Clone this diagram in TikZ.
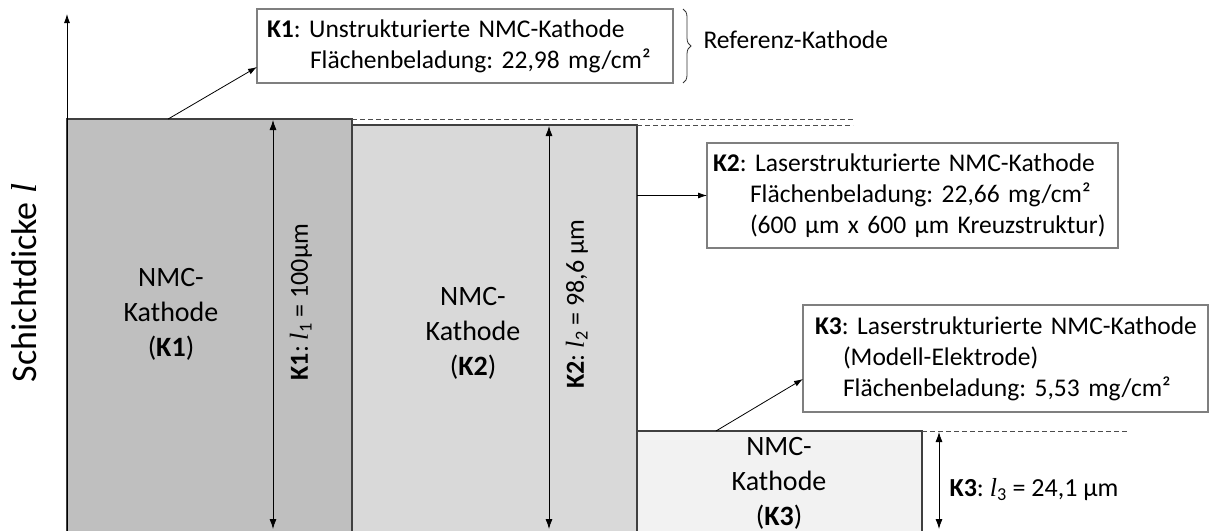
\documentclass[tikz,border=0pt]{standalone}
\usepackage{fontspec}
\setmainfont{Carlito}
\newfontfamily\varfont{Liberation Serif}
\newcommand\lvar[1]{{\varfont\itshape l}\textsubscript{#1}}
\usetikzlibrary{arrows.meta,calc,decorations.pathreplacing}
\definecolor{kone}{HTML}{BFBFBF}
\definecolor{ktwo}{HTML}{D9D9D9}
\definecolor{kthree}{HTML}{F2F2F2}
\definecolor{rectline}{HTML}{404040}
\definecolor{boxline}{HTML}{7F7F7F}
\frenchspacing
\begin{document}
\begin{tikzpicture}[x=1pt,y=-1pt,
  layer/.style={draw=rectline, line width=2pt, inner sep=0pt, outer sep=0pt, anchor=north west, minimum width=285pt, minimum height=440pt},
  infobox/.style={draw=boxline, line width=1.5pt, fill=white, anchor=north west, inner ysep=0pt, outer sep=0pt, align=left, font=\fontsize{25.5}{31}\selectfont},
  arr/.style={-{Latex[length=9pt,width=6pt]}, line width=0.8pt},
  dim/.style={{Latex[length=10pt,width=7pt]}-{Latex[length=10pt,width=7pt]}, line width=0.8pt},
  guide/.style={dash pattern=on 5pt off 3pt, line width=0.8pt, draw=black!70},
  layertext/.style={align=center, font=\fontsize{28}{35}\selectfont},
  dimtext/.style={font=\fontsize{26}{30}\selectfont},
]
\useasboundingbox (0,0) rectangle (1209,530);

% layers
\node[layer, fill=kone] (r1) at (67,119) {};
\node[layer, fill=ktwo] (r2) at (352,125) {};
\node[layer, fill=kthree] (r3) at (637,431) {};

% axis
\coordinate (ax0) at (67,532);
\coordinate (ax1) at (67,14);
\draw[arr] (ax0) -- (ax1);
\node[rotate=90, font=\fontsize{36}{42}\selectfont] (axlab) at (24,283) {Schichtdicke {\varfont\itshape l}};

% layer texts
\node[layertext] (t1) at (171,314) {NMC-\\Kathode\\(\textbf{K1})};
\node[layertext] (t2) at (473,333) {NMC-\\Kathode\\(\textbf{K2})};
\node[layertext] (t3) at (779,483) {NMC-\\Kathode\\(\textbf{K3})};

% guides
\coordinate (g1) at (853,119);
\coordinate (g2) at (853,125);
\coordinate (g3) at (1128,431);
\draw[guide] (r1.north east) -- (g1);
\draw[guide] (r2.north east) -- (g2);
\draw[guide] (r3.north east) -- (g3);

% dimension arrows
\coordinate (d1t) at (273,120);
\coordinate (d1b) at (273,529);
\coordinate (d2t) at (549,126);
\coordinate (d2b) at (549,529);
\coordinate (d3t) at (939,432);
\coordinate (d3b) at (939,529);
\draw[dim] (d1t) -- (d1b);
\draw[dim] (d2t) -- (d2b);
\draw[dim] (d3t) -- (d3b);
\node[dimtext, rotate=90] (l1) at (301,302) {\textbf{K1}: \lvar{1} = 100µm};
\node[dimtext, rotate=90] (l2) at (577,304) {\textbf{K2}: \lvar{2} = 98,6 µm};
\node[dimtext, anchor=west] (l3) at (946,490) {\textbf{K3}: \lvar{3} = 24,1 µm};

% info boxes
\node[infobox, inner xsep=10pt, text width=396pt, minimum height=74pt] (b1) at (257,9)
  {\mbox{\textbf{K1}: Unstrukturierte NMC-Kathode}\\\mbox{\hspace*{43pt}Flächenbeladung: 22,98 mg/cm²}};
\node[infobox, inner xsep=6pt, text width=399pt, minimum height=105pt] (b2) at (707,143)
  {\mbox{\textbf{K2}: Laserstrukturierte NMC-Kathode}\\\mbox{\hspace*{37pt}Flächenbeladung: 22,66 mg/cm²}\\\mbox{\hspace*{37pt}(600 µm x 600 µm Kreuzstruktur)}};
\node[infobox, inner xsep=12pt, text width=381pt, minimum height=107pt] (b3) at (803,305)
  {\mbox{\textbf{K3}: Laserstrukturierte NMC-Kathode}\\\mbox{\hspace*{28pt}(Modell-Elektrode)}\\\mbox{\hspace*{28pt}Flächenbeladung: 5,53 mg/cm²}};

% brace
\coordinate (bra) at ($(b1.north east)+(10,0)$);
\coordinate (brb) at ($(b1.south east)+(10,0)$);
\draw[decorate, decoration={brace, amplitude=8pt}, line width=0.8pt, draw=black!80] (bra) -- (brb);
\node[anchor=west, font=\fontsize{25.5}{30}\selectfont] (ref) at (700,40) {Referenz-Kathode};

% callout arrows
\draw[arr] ($(r1.north west)!0.355!(r1.north east)$) -- ($(b1.south west)+(0,-16)$);
\draw[arr] (r2.east |- b2.west) -- (b2.west);
\draw[arr] ($(r3.north west)!0.277!(r3.north east)$) -- ($(b3.south west)+(0,-33)$);
\end{tikzpicture}
\end{document}
